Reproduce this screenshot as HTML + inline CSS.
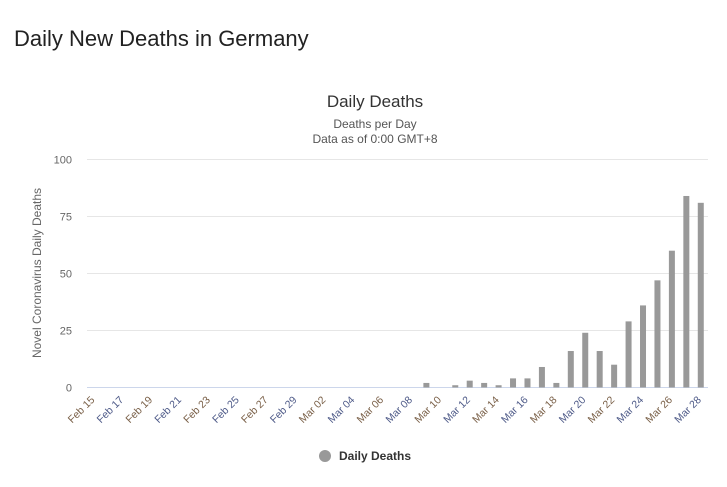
<!DOCTYPE html>
<html><head><meta charset="utf-8"><style>
body{margin:0;background:#fff;width:727px;height:487px;overflow:hidden;font-family:"Liberation Sans",sans-serif}
</style></head><body>
<div style="position:absolute;left:14px;top:26px;font-size:22px;color:#222">Daily New Deaths in Germany</div>
<svg id="chart" width="727" height="487" style="position:absolute;left:0;top:0"></svg>
<script>
const categories=["Feb 15","Feb 16","Feb 17","Feb 18","Feb 19","Feb 20","Feb 21","Feb 22","Feb 23","Feb 24","Feb 25","Feb 26","Feb 27","Feb 28","Feb 29","Mar 01","Mar 02","Mar 03","Mar 04","Mar 05","Mar 06","Mar 07","Mar 08","Mar 09","Mar 10","Mar 11","Mar 12","Mar 13","Mar 14","Mar 15","Mar 16","Mar 17","Mar 18","Mar 19","Mar 20","Mar 21","Mar 22","Mar 23","Mar 24","Mar 25","Mar 26","Mar 27","Mar 28"];
const deaths=[0,0,0,0,0,0,0,0,0,0,0,0,0,0,0,0,0,0,0,0,0,0,0,2,0,1,3,2,1,4,4,9,2,16,24,16,10,29,36,47,60,84,81];
const yTicks=[0,25,50,75,100];
const NS="http://www.w3.org/2000/svg";
const svg=document.getElementById('chart');
const L=87,R=708,T=159.5,B=387.5,yMax=100;
const band=(R-L)/categories.length;
const x=i=>L+band*(i+0.5);
const y=v=>B-(v/yMax)*(B-T);
function mk(tag,attrs,txt){const e=document.createElementNS(NS,tag);for(const k in attrs)e.setAttribute(k,attrs[k]);if(txt!==undefined)e.textContent=txt;svg.appendChild(e);return e;}
let t=mk('text',{x:375,y:107,'text-anchor':'middle','font-size':17,fill:'#333'},'Daily Deaths');


t=mk('text',{x:375,y:128,'text-anchor':'middle','font-size':12,fill:'#555'},'Deaths per Day');


t=mk('text',{x:375,y:143,'text-anchor':'middle','font-size':12,fill:'#555'},'Data as of 0:00 GMT+8');


yTicks.forEach(v=>{
  const g=mk('line',{x1:L,x2:R,y1:y(v),y2:y(v),stroke:v===0?'#ccd6eb':'#e6e6e6','stroke-width':1});
  
  
  const l=mk('text',{x:72,y:y(v)+4,'text-anchor':'end','font-size':11,fill:'#666'},String(v));
  
  
});
t=mk('text',{x:0,y:0,transform:'translate(41,273) rotate(-90)','text-anchor':'middle','font-size':12,fill:'#666'},'Novel Coronavirus Daily Deaths');


deaths.forEach((v,i)=>{
  if(v<=0)return;
  const r=mk('rect',{x:x(i)-3,y:y(v),width:6,height:B-y(v),fill:'#999'});
  
  
});
categories.forEach((c,i)=>{
  if(i%2)return;
  const l=mk('text',{x:0,y:0,transform:`translate(${x(i)+1},${B+13}) rotate(-45)`,'text-anchor':'end','font-size':10.5,fill:i%4===0?'#7a6048':'#4e5a88'},c);
  
  
});
const lc=mk('circle',{cx:325,cy:456,r:6,fill:'#999'});


const lt=mk('text',{x:339,y:460,'font-size':12,'font-weight':'bold',fill:'#333'},'Daily Deaths');


</script>
</body></html>
